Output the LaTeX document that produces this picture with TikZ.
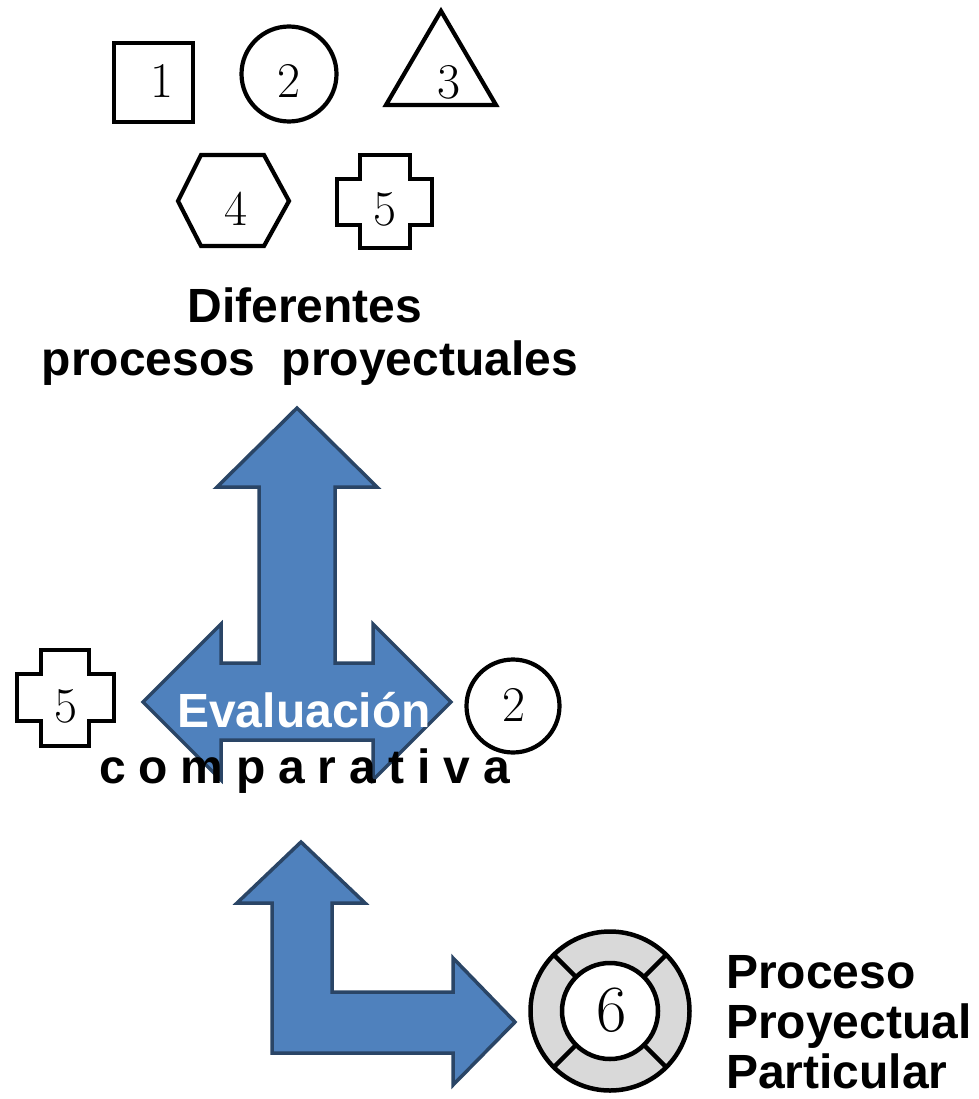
\documentclass[tikz,border=0pt]{standalone}
\usepackage{fontspec}
\usetikzlibrary{calc}
\newfontfamily\lsans{Liberation Sans}
\definecolor{arrfill}{HTML}{4F81BD}
\definecolor{arrline}{HTML}{2A4566}
\definecolor{ringgray}{HTML}{D9D9D9}
\newcommand{\gapc}{\hspace{12.8pt}}
\tikzset{
  shp/.style={draw=black, line width=4.2pt, fill=white, line join=miter},
  blockarrow/.style={draw=arrline, fill=arrfill, line width=3.5pt, line join=miter},
  dig/.style={inner sep=0pt, font=\fontsize{50}{50}\selectfont},
  lbl/.style={inner sep=0pt, font=\lsans\bfseries\fontsize{48}{57}\selectfont, anchor=base},
}
\begin{document}
\begin{tikzpicture}[x=1pt,y=-1pt]
\useasboundingbox (0,0) rectangle (978,1099);
% ---- top shapes ----
\draw[shp] (114,43) rectangle (193,122);
\node[dig] (d1) at (162,81) {1};
\draw[shp] (289,74) circle[radius=47.5];
\node[dig] (d2) at (289,81) {2};
\draw[shp] (441,11) -- (496,105) -- (386,105) -- cycle;
\node[dig] (d3) at (449,82) {3};
\draw[shp] (178,201) -- (201,155) -- (264,155) -- (289,201) -- (264,246) -- (201,246) -- cycle;
\node[dig] (d4) at (236,209) {4};
\draw[shp] (360,155) -- (410,155) -- (410,179) -- (432,179) -- (432,225) -- (410,225) -- (410,248) -- (360,248) -- (360,225) -- (337,225) -- (337,179) -- (360,179) -- cycle;
\node[dig] (d5) at (385,209) {5};
% ---- title ----
\node[lbl] (t1) at (305,322) {Diferentes};
\node[lbl] (t2) at (310,375) {procesos\ \ proyectuales};
% ---- big left-right-up arrow ----
\draw[blockarrow] (297,408) -- (377,487) -- (335,487) -- (335,663) -- (373,663) -- (373,624)
  -- (451,702) -- (373,780) -- (373,740) -- (221,740) -- (221,780) -- (143,702)
  -- (221,624) -- (221,663) -- (259,663) -- (259,487) -- (217,487) -- cycle;
\node[lbl, text=white] (ev) at (304,727) {Evaluación};
\node[lbl, anchor=base west] (cp) at (99,783) {c\gapc o\gapc m\gapc p\gapc a\gapc r\gapc a\gapc t\gapc i\gapc v\gapc a};
% ---- middle shapes ----
\draw[shp] (41,650) -- (89,650) -- (89,674) -- (114,674) -- (114,721) -- (89,721) -- (89,746) -- (41,746) -- (41,721) -- (17,721) -- (17,674) -- (41,674) -- cycle;
\node[dig] (m5) at (66,706) {5};
\draw[shp] (513,706) circle[radius=46.5];
\node[dig] (m2) at (514,705) {2};
% ---- L arrow ----
\draw[blockarrow] (301,842) -- (365,903) -- (332,903) -- (332,992) -- (453,992) -- (453,958)
  -- (515,1022) -- (453,1085) -- (453,1053) -- (272,1053) -- (272,903) -- (237,903) -- cycle;
% ---- ring ----
\coordinate (rc) at (610,1011);
\draw[line width=4.5pt, fill=ringgray] (rc) circle[radius=79.5];
\draw[line width=4.5pt, fill=white] (rc) circle[radius=48];
\foreach \a in {45,135,225,315}
  \draw[line width=4.5pt] ($(rc)+(\a:48)$) -- ($(rc)+(\a:79.5)$);
\node[inner sep=0pt, font=\fontsize{66}{66}\selectfont] (d6) at (612,1010) {6};
% ---- label ----
\node[lbl, anchor=base west] (p1) at (726,988) {Proceso};
\node[lbl, anchor=base west] (p2) at (726,1038) {Proyectual};
\node[lbl, anchor=base west] (p3) at (726,1088) {Particular};
\end{tikzpicture}
\end{document}
